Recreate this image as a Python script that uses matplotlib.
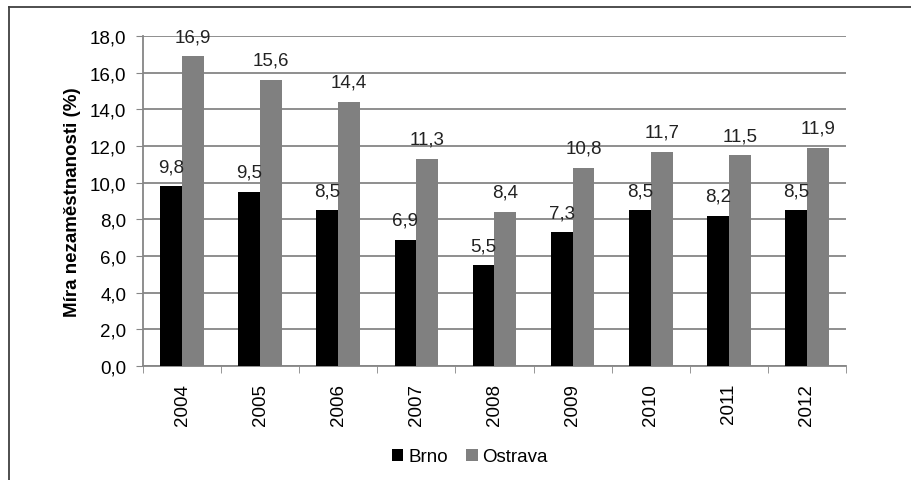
import numpy as np
import matplotlib.pyplot as plt
from matplotlib.lines import Line2D

plt.rcParams['font.family'] = ['Liberation Sans', 'DejaVu Sans']

roky = ['2004', '2005', '2006', '2007', '2008', '2009', '2010', '2011', '2012']
brno = [9.8, 9.5, 8.5, 6.9, 5.5, 7.3, 8.5, 8.2, 8.5]
ostrava = [16.9, 15.6, 14.4, 11.3, 8.4, 10.8, 11.7, 11.5, 11.9]

fs = 13.5

fig = plt.figure(figsize=(9.12, 4.81), dpi=100)
ax = fig.add_axes([143/912, 1 - 367/481, 703/912, 330/481])

# ramecek kolem grafu (jen horni a leva hrana jsou videt)
fig.add_artist(Line2D([9/912, 1.0], [1 - 8/481, 1 - 8/481], color='#404040', lw=1.3, transform=fig.transFigure))
fig.add_artist(Line2D([9/912, 9/912], [0.0, 1 - 8/481], color='#404040', lw=1.3, transform=fig.transFigure))

x = np.arange(len(roky))
w = 0.28
b1 = ax.bar(x - w/2, brno, w, color='black', label='Brno', zorder=3)
b2 = ax.bar(x + w/2, ostrava, w, color='#808080', label='Ostrava', zorder=3)

for bars, vals in [(b1, brno), (b2, ostrava)]:
    for r, v in zip(bars, vals):
        ax.annotate(f"{v:.1f}".replace('.', ','), (r.get_x() + r.get_width()/2, v),
                    xytext=(0, 8), textcoords='offset points', ha='center', va='bottom',
                    fontsize=fs, color='#222222')

ax.set_xlim(-0.5, len(roky) - 0.5)
ax.set_ylim(0, 18)
ax.set_yticks(np.arange(0, 18.1, 2))
ax.set_yticklabels([f"{t:.1f}".replace('.', ',') for t in np.arange(0, 18.1, 2)], fontsize=fs)
ax.set_xticks(x)
ax.set_xticklabels(roky, rotation=90, fontsize=fs)
ax.set_xticks(np.arange(-0.5, len(roky)), minor=True)
ax.tick_params(axis='x', which='major', length=0, pad=12)
ax.tick_params(axis='x', which='minor', length=5, color='#868686')
ax.tick_params(axis='y', length=5, color='#868686', pad=7)

ax.grid(axis='y', color='#868686', lw=1.3, zorder=0)
for s in ['top', 'right']:
    ax.spines[s].set_visible(False)
for s in ['left', 'bottom']:
    ax.spines[s].set_color('#868686')
    ax.spines[s].set_linewidth(1.3)

ax.set_ylabel('Míra nezaměstnanosti (%)', fontsize=fs, fontweight='bold', labelpad=6)

fig.legend(handles=[b1, b2], loc='center', bbox_to_anchor=(470/912, 1 - 458/481), ncol=2,
           frameon=False, fontsize=fs, handlelength=0.6, handleheight=0.6,
           handletextpad=0.25, columnspacing=1.0)

fig.savefig('out.png', dpi=100)
